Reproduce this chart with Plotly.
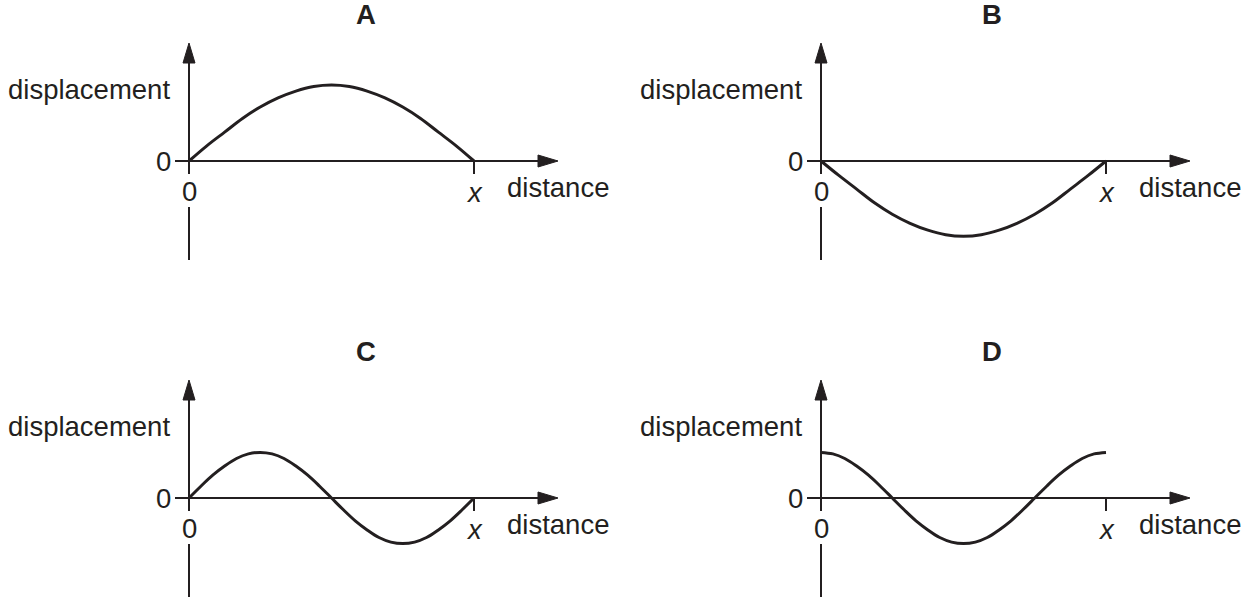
import plotly.graph_objects as go

PANELS = ["A", "B", "C", "D"]

DIST_HALF = [0, 0.0625, 0.125, 0.1875, 0.25, 0.3125, 0.375, 0.4375, 0.5,
             0.5625, 0.625, 0.6875, 0.75, 0.8125, 0.875, 0.9375, 1.0]
DISP_A = [0, 0.20, 0.38, 0.56, 0.71, 0.83, 0.92, 0.98, 1.0,
          0.98, 0.92, 0.83, 0.71, 0.56, 0.38, 0.20, 0]
DISP_B = [0, -0.19, -0.37, -0.55, -0.70, -0.82, -0.91, -0.97, -0.99,
          -0.97, -0.91, -0.82, -0.70, -0.55, -0.37, -0.19, 0]

DIST_FULL = [k / 24 for k in range(25)]
DISP_C = [0, 0.155, 0.30, 0.42, 0.52, 0.58, 0.60, 0.58, 0.52, 0.42, 0.30, 0.155, 0,
          -0.155, -0.30, -0.42, -0.52, -0.58, -0.60, -0.58, -0.52, -0.42, -0.30, -0.155, 0]
DISP_D = [0.60, 0.58, 0.52, 0.42, 0.30, 0.155, 0, -0.155, -0.30, -0.42, -0.52, -0.58, -0.60,
          -0.58, -0.52, -0.42, -0.30, -0.155, 0, 0.155, 0.30, 0.42, 0.52, 0.58, 0.60]

CURVES = {
    "A": (DIST_HALF, DISP_A),
    "B": (DIST_HALF, DISP_B),
    "C": (DIST_FULL, DISP_C),
    "D": (DIST_FULL, DISP_D),
}

X_TICK_LABEL = "x"
Y_LABEL = "displacement"
X_LABEL = "distance"

INK = "#231f20"
FONT = "Liberation Sans"
W, H = 1253, 600
SX, SY = 285.0, 76.0  # pixels per data unit


def dx(px):
    return px / SX


def dy(px):
    return px / SY


# (x domain in px, y domain in px, pixel row of the distance axis, title offset)
GRID = {
    "A": ((0, 620), (0, 300), 161, 177),
    "B": ((632, 1252), (0, 300), 161, 171),
    "C": ((0, 620), (300, 600), 498, 177),
    "D": ((632, 1252), (300, 600), 498, 171),
}
ORIGIN_PX = 189

fig = go.Figure()
shapes = []
annotations = []

for i, name in enumerate(PANELS, start=1):
    (x0p, x1p), (y0p, y1p), axis_row, title_dx = GRID[name]
    xa = "x" if i == 1 else f"x{i}"
    ya = "y" if i == 1 else f"y{i}"
    xkey = "xaxis" if i == 1 else f"xaxis{i}"
    ykey = "yaxis" if i == 1 else f"yaxis{i}"

    fig.update_layout(**{
        xkey: dict(domain=[x0p / W, x1p / W],
                   range=[dx(-ORIGIN_PX), dx(x1p - x0p - ORIGIN_PX)],
                   visible=False, anchor=ya, fixedrange=True),
        ykey: dict(domain=[1 - y1p / H, 1 - y0p / H],
                   range=[dy(axis_row - y1p), dy(axis_row - y0p)],
                   visible=False, anchor=xa, fixedrange=True),
    })

    dist, disp = CURVES[name]
    fig.add_trace(go.Scatter(
        x=dist, y=disp, mode="lines", xaxis=xa, yaxis=ya,
        line=dict(color=INK, width=3, shape="spline", smoothing=1.0),
        hoverinfo="skip", showlegend=False,
    ))

    line = dict(color=INK, width=2)
    # distance axis
    shapes.append(dict(type="line", xref=xa, yref=ya, x0=dx(-14), x1=dx(352),
                       y0=0, y1=0, line=line))
    shapes.append(dict(type="path", xref=xa, yref=ya,
                       path=f"M{dx(349)},{dy(6)} L{dx(369)},0 L{dx(349)},{dy(-6)} Z",
                       fillcolor=INK, line=dict(color=INK, width=1)))
    # tick at x
    shapes.append(dict(type="line", xref=xa, yref=ya, x0=1, x1=1,
                       y0=0, y1=dy(-13), line=line))
    # displacement axis (upper part + arrow)
    shapes.append(dict(type="line", xref=xa, yref=ya, x0=0, x1=0,
                       y0=dy(-13), y1=dy(100), line=line))
    shapes.append(dict(type="path", xref=xa, yref=ya,
                       path=f"M{dx(-6)},{dy(98)} L0,{dy(118)} L{dx(6)},{dy(98)} Z",
                       fillcolor=INK, line=dict(color=INK, width=1)))
    # displacement axis (lower part)
    shapes.append(dict(type="line", xref=xa, yref=ya, x0=0, x1=0,
                       y0=dy(-46), y1=dy(-99), line=line))

    base = dict(xref=xa, yref=ya, showarrow=False,
                font=dict(family=FONT, size=27.5, color=INK))
    annotations += [
        dict(base, text=f"<b>{name}</b>", x=dx(title_dx), y=dy(147)),
        dict(base, text=Y_LABEL, x=0, y=0, xshift=-17, yshift=72,
             xanchor="right"),
        dict(base, text="0", x=0, y=0, xshift=-26, yshift=0),
        dict(base, text="0", x=0, y=0, xshift=0, yshift=-30),
        dict(base, text=f"<i>{X_TICK_LABEL}</i>", x=1, y=0, yshift=-31),
        dict(base, text=X_LABEL, x=dx(316), y=0, yshift=-26,
             xanchor="left"),
    ]

fig.update_layout(
    width=W, height=H,
    margin=dict(l=0, r=0, t=0, b=0),
    paper_bgcolor="white", plot_bgcolor="white",
    shapes=shapes, annotations=annotations,
    showlegend=False,
)

# drop the browser's default body margin so the figure sits at the page corner
fig.write_html("out.html", config={"displayModeBar": False},
               post_script="document.body.style.margin='0';")
